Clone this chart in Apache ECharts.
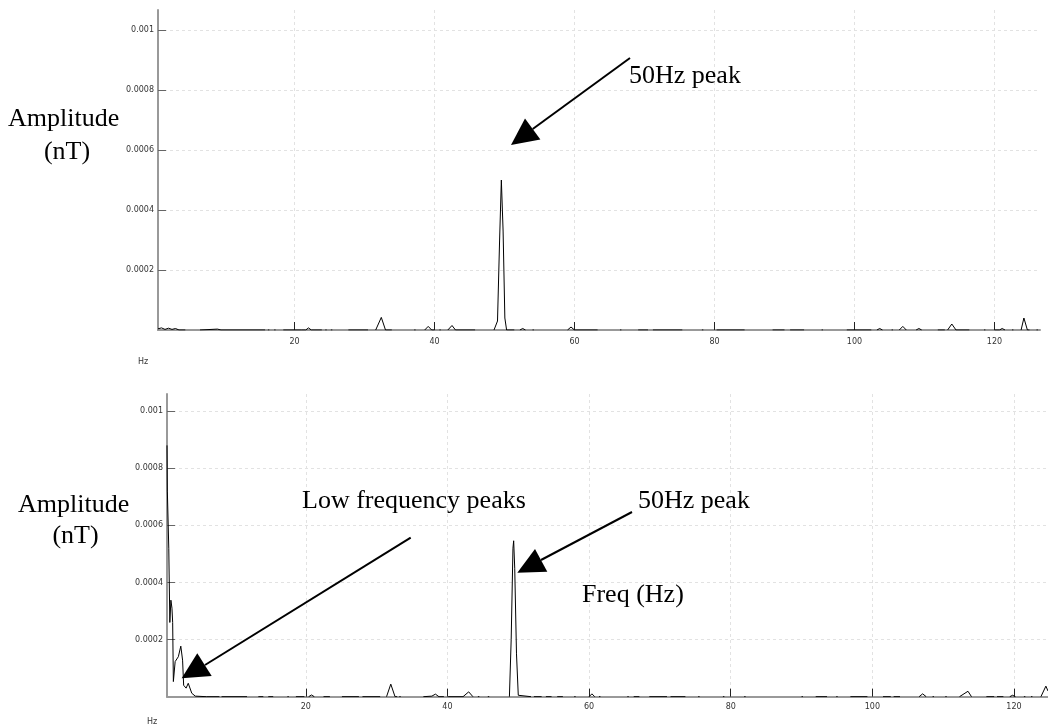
<!DOCTYPE html>
<html><head><meta charset="utf-8">
<script src="https://cdn.jsdelivr.net/npm/echarts@6/dist/echarts.min.js"></script>
<style>html,body{margin:0;padding:0;background:#fff}#c{width:1048px;height:726px}</style>
</head><body><div id="c"></div>
<script>
// Tick values
const xTicks = [20, 40, 60, 80, 100, 120];
const yTicks = [0.0002, 0.0004, 0.0006, 0.0008, 0.001];

// Top spectrum: visible trace segments of [frequency Hz, amplitude nT]
const topTrace = [
  [[0.5,0.000004],[1.0,0.000007],[1.5,0.000002],[2.0,0.000006],[2.5,0.000002],[3.0,0.000005],[3.5,0],[4.4,0]],
  [[6.5,0],[9.0,0.000003],[9.5,0],[15.8,0]],
  [[16.2,0],[16.4,0]],
  [[17.1,0],[17.3,0]],
  [[18.4,0],[21.0,0],[21.6,0],[22.0,0.000007],[22.4,0],[23.9,0]],
  [[24.4,0],[24.6,0]],
  [[25.2,0],[25.4,0]],
  [[27.7,0],[30.5,0]],
  [[31.6,0],[32.4,0.000042],[33.0,0],[33.9,0]],
  [[37.1,0],[37.3,0]],
  [[38.6,0],[39.1,0.000012],[39.6,0],[40.0,0]],
  [[40.7,0],[40.9,0]],
  [[41.9,0],[42.5,0.000015],[43.0,0],[45.8,0]],
  [[48.5,0],[49.0,0.00003],[49.3,0.0003],[49.55,0.0005],[49.8,0.00033],[50.05,0.00004],[50.3,0],[51.4,0]],
  [[52.2,0],[52.6,0.000005],[53.0,0]],
  [[54.0,0],[54.2,0]],
  [[59.0,0],[59.5,0.00001],[60.0,0],[63.3,0]],
  [[66.5,0],[66.7,0]],
  [[69.1,0],[70.5,0]],
  [[71.2,0],[75.4,0]],
  [[78.2,0],[78.4,0]],
  [[80.3,0],[84.3,0]],
  [[88.3,0],[90.0,0]],
  [[90.8,0],[92.8,0]],
  [[95.3,0],[95.5,0]],
  [[98.9,0],[102.4,0]],
  [[103.2,0],[103.6,0.000005],[104.0,0]],
  [[105.3,0],[105.5,0]],
  [[106.4,0],[106.9,0.000012],[107.4,0]],
  [[108.8,0],[109.2,0.000005],[109.6,0]],
  [[111.9,0],[112.9,0]],
  [[113.3,0],[113.9,0.00002],[114.5,0],[116.4,0]],
  [[118.5,0],[118.7,0]],
  [[120.0,0],[120.7,0],[121.1,0.000005],[121.5,0]],
  [[122.5,0],[122.7,0]],
  [[123.8,0],[124.2,0.00004],[124.7,0],[125.0,0]],
  [[126.0,0],[126.2,0]]
];

// Bottom spectrum
const bottomTrace = [
  [[0.4,0.00088],[0.45,0.00072],[0.65,0.00052],[0.8,0.00026],[0.95,0.000338],[1.1,0.00031],[1.2,0.00026],[1.3,0.000053],[1.55,0.000123],[2.0,0.00014],[2.35,0.000177],[2.6,0.000128],[2.75,0.00004],[3.1,0.00003],[3.4,0.000047],[3.9,0.000012],[4.4,0.000002],[6.0,0],[7.8,0]],
  [[8.1,0],[11.7,0]],
  [[13.3,0],[14.0,0]],
  [[14.7,0],[15.4,0]],
  [[17.4,0],[17.6,0]],
  [[18.6,0],[19.8,0]],
  [[20.4,0],[20.8,0.000006],[21.2,0]],
  [[22.5,0],[23.4,0]],
  [[25.1,0],[27.5,0]],
  [[28.0,0],[30.5,0]],
  [[31.4,0],[32.0,0.000044],[32.6,0],[32.9,0]],
  [[33.2,0],[33.4,0]],
  [[36.6,0],[37.8,0.000002],[38.3,0.000009],[38.8,0],[39.5,0]],
  [[40.1,0],[42.2,0],[43.0,0.000017],[43.6,0]],
  [[44.3,0],[44.5,0]],
  [[45.7,0],[45.9,0]],
  [[48.75,0],[49.0,0.0002],[49.25,0.00052],[49.35,0.000546],[49.5,0.00045],[49.75,0.00015],[50.0,0.000005],[50.2,0],[51.8,0]],
  [[52.2,0],[53.3,0]],
  [[53.9,0],[54.7,0]],
  [[55.5,0],[56.3,0]],
  [[57.9,0],[58.1,0]],
  [[60.0,0],[60.4,0.00001],[60.8,0]],
  [[61.4,0],[61.6,0]],
  [[65.4,0],[65.6,0]],
  [[66.3,0],[67.1,0]],
  [[68.5,0],[71.0,0]],
  [[71.5,0],[73.6,0]],
  [[75.4,0],[75.6,0]],
  [[78.9,0],[79.1,0]],
  [[81.9,0],[82.1,0]],
  [[90.0,0],[90.2,0]],
  [[92.0,0],[93.6,0]],
  [[94.9,0],[95.1,0]],
  [[96.9,0],[99.3,0]],
  [[101.5,0],[102.6,0]],
  [[103.0,0],[103.9,0]],
  [[106.6,0],[107.1,0.00001],[107.6,0]],
  [[108.5,0],[108.7,0]],
  [[110.3,0],[110.5,0]],
  [[112.3,0],[113.5,0.000019],[114.0,0]],
  [[116.1,0],[117.2,0]],
  [[117.6,0],[118.5,0]],
  [[119.4,0],[119.8,0.000005],[120.2,0]],
  [[121.4,0],[121.6,0]],
  [[122.4,0],[122.6,0]],
  [[123.8,0],[124.5,0.000037],[124.8,0.00002]]
];

function joinSegments(segs) {
  const out = [];
  segs.forEach((s, i) => { if (i) out.push([s[0][0], '-']); s.forEach(p => out.push(p)); });
  return out;
}
const fmtY = v => parseFloat(v.toFixed(6)).toString();

function xAxisDef(gridIndex, min, max, labelMargin) {
  return {
    type: 'value', gridIndex, min, max,
    axisLine: { show: true, onZero: false, lineStyle: { color: '#999', width: 2 } },
    axisTick: { show: true, inside: true, length: 8, customValues: xTicks, lineStyle: { color: '#222', width: 1 } },
    axisLabel: { customValues: xTicks, margin: labelMargin, fontSize: 8, fontFamily: 'DejaVu Sans', color: '#333' },
    splitLine: { show: true, lineStyle: { color: '#e2e2e2', type: [3, 3], width: 1 } }
  };
}
function yAxisDef(gridIndex, max) {
  return {
    type: 'value', gridIndex, min: 0, max,
    axisLine: { show: true, lineStyle: { color: '#999', width: 2 } },
    axisTick: { show: true, inside: true, length: 8, customValues: yTicks, lineStyle: { color: '#666', width: 1 } },
    axisLabel: { customValues: yTicks, margin: 4, fontSize: 8, fontFamily: 'DejaVu Sans', color: '#333', formatter: fmtY },
    splitLine: { show: true, lineStyle: { color: '#e2e2e2', type: [3, 3], width: 1 } }
  };
}

const serif = 'Liberation Serif';
function txt(text, x, y, align) {
  return { type: 'text', silent: true, z: 100, style: { text, x, y, fontSize: 26, fontFamily: serif, fill: '#000', align: align || 'left', verticalAlign: 'middle' } };
}
function small(text, x, y) {
  return { type: 'text', silent: true, z: 100, style: { text, x, y, fontSize: 8, fontFamily: 'DejaVu Sans', fill: '#333', align: 'center', verticalAlign: 'middle' } };
}
function line(x1, y1, x2, y2) {
  return { type: 'line', silent: true, z: 100, shape: { x1, y1, x2, y2 }, style: { stroke: '#000', lineWidth: 2 } };
}
function head(pts) {
  return { type: 'polygon', silent: true, z: 100, shape: { points: pts }, style: { fill: '#000' } };
}

const chart = echarts.init(document.getElementById('c'), null, { renderer: 'canvas' });
chart.setOption({
  animation: false,
  backgroundColor: '#fff',
  grid: [
    { left: 158, top: 10, width: 882, height: 320 },
    { left: 167, top: 394, width: 881, height: 302.7 }
  ],
  xAxis: [xAxisDef(0, 0.5, 126.5, 8), xAxisDef(1, 0.4, 124.8, 6)],
  yAxis: [yAxisDef(0, 0.001067), yAxisDef(1, 0.00106)],
  series: [
    { type: 'line', xAxisIndex: 0, yAxisIndex: 0, data: joinSegments(topTrace), showSymbol: false, symbol: 'none', connectNulls: false, lineStyle: { color: '#000', width: 1 } },
    { type: 'line', xAxisIndex: 1, yAxisIndex: 1, data: joinSegments(bottomTrace), showSymbol: false, symbol: 'none', connectNulls: false, lineStyle: { color: '#000', width: 1 } }
  ],
  graphic: [
    small('Hz', 143, 362),
    small('Hz', 152, 722),
    txt('Amplitude', 8, 119),
    txt('(nT)', 67, 152, 'center'),
    txt('Amplitude', 18, 505),
    txt('(nT)', 75.5, 536, 'center'),
    txt('50Hz peak', 629, 76),
    txt('Low frequency peaks', 302, 501),
    txt('50Hz peak', 638, 501),
    txt('Freq (Hz)', 582, 595),
    line(630, 58, 532.7, 129),
    head([[511, 145], [540.4, 139.5], [525, 118.5]]),
    line(632, 512, 541, 560),
    head([[517.3, 572.7], [535, 549], [547.3, 571.7]]),
    line(410.7, 537.7, 205, 665),
    head([[181.7, 678.3], [197.3, 653.3], [211.7, 676]])
  ]
});
</script>
</body></html>
